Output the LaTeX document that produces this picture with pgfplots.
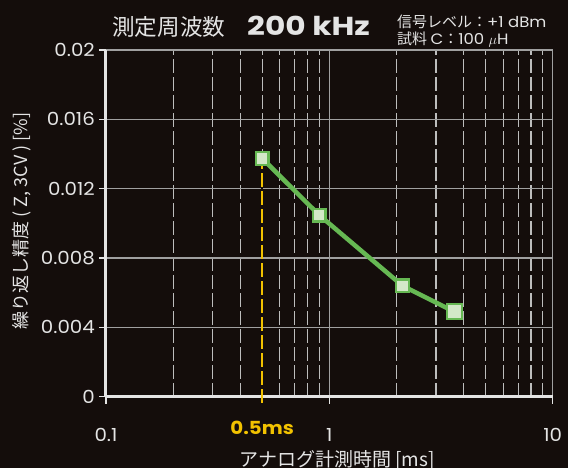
\documentclass[border=0pt]{standalone}
\usepackage{pgfplots}
\pgfplotsset{compat=1.18}
\usepackage{fontspec}
\setmainfont{Poppins}
\newfontfamily\widefont[FakeStretch=1.2]{Poppins}
\newfontfamily\semiwide[FakeStretch=1.1]{Poppins}
\newfontfamily\cjk{Noto Sans CJK JP}
\definecolor{bg}{HTML}{140D0B}
\definecolor{fg}{HTML}{E4E4E4}
\definecolor{grd}{HTML}{A0A0A0}
\definecolor{vgrd}{HTML}{BDBDBD}
\definecolor{yel}{HTML}{F2C200}
\definecolor{lgreen}{HTML}{66B853}
\definecolor{mfill}{HTML}{D3E8C8}
\begin{document}
\begin{tikzpicture}[x=1bp,y=1bp]
\fill[bg] (0,0) rectangle (568,468);
\begin{axis}[
  at={(106bp,71.3bp)}, anchor=south west,
  scale only axis, width=446.7bp, height=346.7bp,
  xmode=log, xmin=0.1, xmax=10, ymin=0, ymax=0.02,
  clip=false,
  scaled y ticks=false, scaled x ticks=false,
  axis lines*=left,
  axis line style={-, fg, line width=3bp},
  xtick={0.1,1,10}, xticklabels={0.1,1,10},
  minor xtick={0.2,0.3,0.4,0.5,0.6,0.7,0.8,0.9,2,3,4,5,6,7,8,9},
  ytick={0,0.004,0.008,0.012,0.016,0.02},
  yticklabels={0,0.004,0.008,0.012,0.016,0.02},
  tick align=outside,
  major tick length=7bp, minor tick length=0bp,
  tick style={fg, line width=1.5bp},
  xmajorgrids, ymajorgrids, xminorgrids,
  major grid style={grd, line width=1.5bp, solid},
  minor grid style={vgrd, line width=1.2bp, dash pattern=on 14bp off 4bp},
  tick label style={fg, font=\semiwide\fontsize{18bp}{20bp}\selectfont},
  xticklabel style={anchor=base, yshift=-37.5bp},
  yticklabel style={anchor=east, inner sep=0pt, xshift=-4bp},
  extra x ticks={0.5},
  extra x tick labels={\color{yel}\bfseries 0.5ms},
  extra x tick style={major tick length=0bp, grid=none},
]
\addplot[bg, line width=2.6bp, forget plot] coordinates {(0.5,0) (0.5,0.0137)};
\addplot[yel, line width=1.3bp, dash pattern=on 14bp off 4bp, forget plot] coordinates {(0.5,-0.00036) (0.5,0.0137)};
\addplot[lgreen, line width=4.5bp, mark=square*, mark size=6.4bp,
  mark options={fill=mfill, draw=lgreen, line width=2.2bp, solid}]
  coordinates {(0.5,0.01375) (0.9,0.01048) (2.13,0.00639) (3.63,0.0049)};
\addplot[only marks, mark=square*, mark size=7.6bp,
  mark options={fill=mfill, draw=lgreen, line width=2.2bp}]
  coordinates {(3.63,0.0049)};
\end{axis}
\node[rotate=90, fg, font=\cjk\fontsize{18bp}{20bp}\selectfont] at (22,247) {繰り返し精度 ( Z, 3CV ) [\%]};
\node[anchor=base, fg, font=\cjk\fontsize{19bp}{21bp}\selectfont] at (337,1) {アナログ計測時間 [ms]};
\node[anchor=base west, fg, inner sep=0pt, font=\cjk\fontsize{22.6bp}{24bp}\selectfont] at (112,432.5) {測定周波数};
\node[anchor=base west, fg, inner sep=0pt, font=\widefont\fontsize{26bp}{28bp}\selectfont\bfseries] at (247,432.3) {200 kHz};
\node[anchor=base west, fg, inner sep=0pt, font=\semiwide\fontsize{15bp}{17bp}\selectfont] at (397,440) {{\cjk 信号レベル：}+1 dBm};
\node[anchor=base west, fg, inner sep=0pt, font=\semiwide\fontsize{15bp}{17bp}\selectfont] at (397,423) {{\cjk 試料 }C{\cjk ：}100 $\mu$H};
\pgfresetboundingbox
\path (0,0) rectangle (568,468);
\end{tikzpicture}
\end{document}
